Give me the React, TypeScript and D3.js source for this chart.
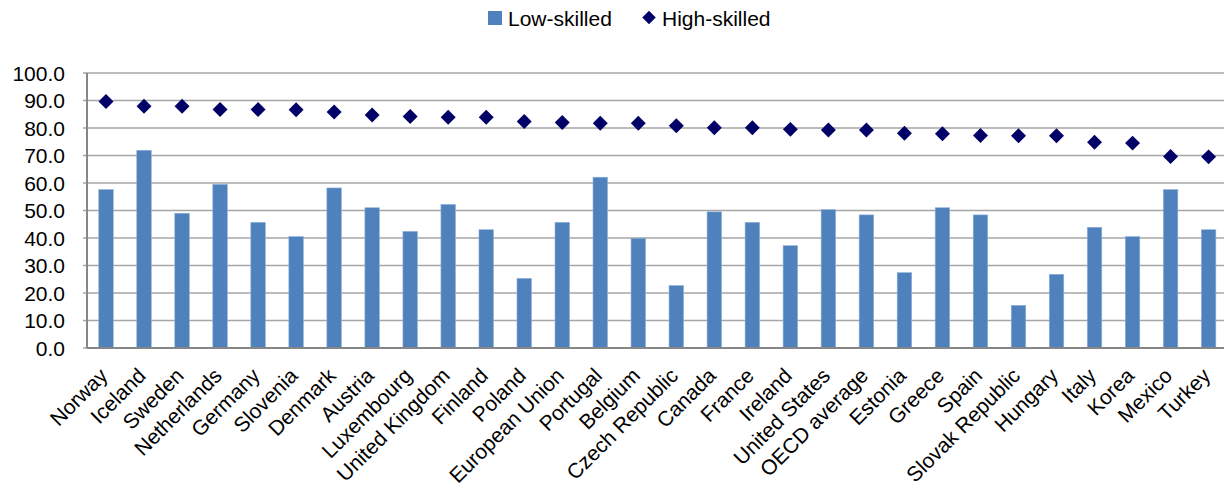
import React from "react";
import * as d3 from "d3";

const categories = [
  "Norway", "Iceland", "Sweden", "Netherlands", "Germany", "Slovenia", "Denmark", "Austria",
  "Luxembourg", "United Kingdom", "Finland", "Poland", "European Union", "Portugal", "Belgium",
  "Czech Republic", "Canada", "France", "Ireland", "United States", "OECD average", "Estonia",
  "Greece", "Spain", "Slovak Republic", "Hungary", "Italy", "Korea", "Mexico", "Turkey",
];
const lowSkilled = [
  57.6, 71.9, 49.0, 59.5, 45.7, 40.5, 58.2, 51.0, 42.4, 52.2, 43.0, 25.3, 45.7, 62.1, 39.9,
  22.7, 49.5, 45.7, 37.2, 50.3, 48.4, 27.4, 51.0, 48.4, 15.5, 26.8, 43.9, 40.5, 57.6, 43.0,
];
const highSkilled = [
  89.6, 87.9, 87.9, 86.7, 86.7, 86.6, 85.8, 84.7, 84.2, 83.9, 83.9, 82.4, 82.0, 81.7, 81.7,
  80.8, 80.1, 80.1, 79.5, 79.3, 79.3, 78.1, 77.9, 77.3, 77.2, 77.2, 74.8, 74.5, 69.6, 69.5,
];
const yTicks = [0, 10, 20, 30, 40, 50, 60, 70, 80, 90, 100];
const seriesNames = ["Low-skilled", "High-skilled"];

const W = 1224;
const H = 489;
const left = 87;
const right = 1227.6;
const top = 73;
const bottom = 348;
const FONT = "'Liberation Sans', Arial, sans-serif";

export default function App() {
  const x = d3.scaleBand<string>().domain(categories).range([left, right]).paddingInner(0.62).paddingOuter(0.31);
  const xc = (c: string) => (x(c) as number) + x.bandwidth() / 2;
  const y = d3.scaleLinear().domain([0, 100]).range([bottom, top]);
  const diamond = d3.symbol().type(d3.symbolSquare).size(112)();
  const bw = 14.5;

  return (
    <svg width={W} height={H} style={{ position: "absolute", left: 0, top: 0, background: "#fff" }} fontFamily={FONT}>
      {/* gridlines */}
      {yTicks.map((t) => (
        <line key={"g" + t} x1={left - 4} x2={W} y1={y(t)} y2={y(t)} stroke="#a6a6a6" strokeWidth={1.7} />
      ))}
      {/* y labels */}
      {yTicks.map((t) => (
        <text key={"l" + t} x={65} y={y(t)} dy="0.36em" textAnchor="end" fontSize={21} fill="#000">
          {t.toFixed(1)}
        </text>
      ))}
      {/* bars */}
      {categories.map((c, i) => (
        <rect key={"b" + c} x={xc(c) - bw / 2} y={y(lowSkilled[i])} width={bw} height={bottom - y(lowSkilled[i])}
          fill="#4f81bd" stroke="#8fb0d8" strokeWidth={0.6} />
      ))}
      {/* axes */}
      <line x1={left} x2={left} y1={top} y2={bottom} stroke="#868686" strokeWidth={2} />
      <line x1={left} x2={W} y1={bottom} y2={bottom} stroke="#868686" strokeWidth={2} />
      {/* markers */}
      {categories.map((c, i) => (
        <path key={"m" + c} d={diamond as string} transform={`translate(${xc(c)},${y(highSkilled[i])}) rotate(45)`} fill="#000066" />
      ))}
      {/* x labels */}
      {categories.map((c) => (
        <text key={"x" + c} transform={`translate(${xc(c) + 3},${377}) rotate(-45)`} textAnchor="end" fontSize={21} fill="#000">
          {c}
        </text>
      ))}
      {/* legend */}
      <rect x={488} y={11} width={14} height={14} fill="#4f81bd" />
      <text x={508} y={25.5} fontSize={21} fill="#000">{seriesNames[0]}</text>
      <path d={diamond as string} transform={`translate(649,17.5) rotate(45) scale(0.9)`} fill="#000066" />
      <text x={662} y={25.5} fontSize={21} fill="#000">{seriesNames[1]}</text>
    </svg>
  );
}
